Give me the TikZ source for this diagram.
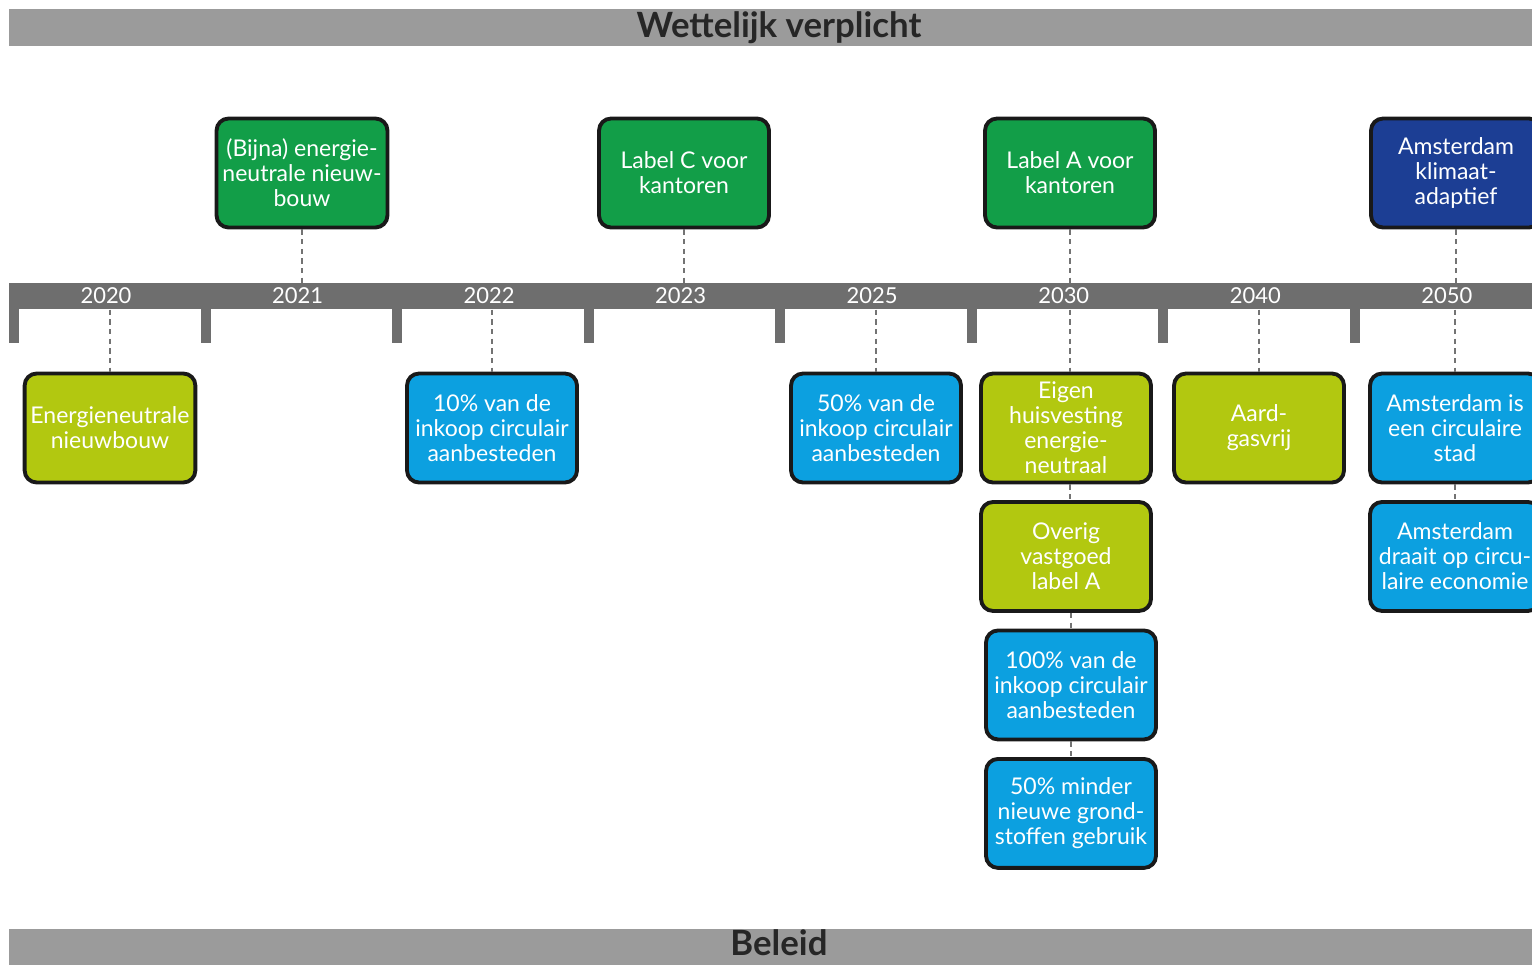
\documentclass[tikz,border=0pt]{standalone}
\usepackage{fontspec}
\setmainfont{Lato}
\usetikzlibrary{positioning}
\definecolor{bargray}{RGB}{155,155,155}
\definecolor{tlgray}{RGB}{110,110,110}
\definecolor{lawgreen}{RGB}{18,158,72}
\definecolor{navy}{RGB}{28,62,148}
\definecolor{lime}{RGB}{178,200,16}
\definecolor{sky}{RGB}{12,160,224}

\begin{document}
\begin{tikzpicture}[x=0.02cm,y=-0.02cm,node distance=2.57cm,on grid,
  box/.style={draw=black!90,line width=2.2pt,rounded corners=0.24cm,minimum width=3.4cm,
    minimum height=2.18cm,align=center,text=white,font=\fontsize{13.1}{14.2}\selectfont},
  wet/.style={box,fill=lawgreen},
  klimaat/.style={box,fill=navy},
  energie/.style={box,fill=lime},
  circ/.style={box,fill=sky},
  banner/.style={fill=bargray,minimum width=30.8cm,minimum height=0.74cm,inner sep=0,anchor=north,
    text=black!85,font=\fontsize{19.8}{22}\selectfont\bfseries},
  year/.style={text=white,font=\fontsize{12.5}{14}\selectfont},
  link/.style={draw=black!55,line width=0.85pt,dash pattern=on 3pt off 2.5pt}]
  \useasboundingbox (0,0) rectangle (1532,964);
  \node[banner] (wettelijk) at (779,9) {Wettelijk verplicht};
  \node[banner, minimum height=0.7cm, text depth=6pt] (beleid) at (779,929) {Beleid};
  \node[fill=tlgray,minimum width=30.8cm,minimum height=0.52cm,inner sep=0,anchor=north west] (tl) at (9,283) {};
  \foreach \yr [count=\i from 0] in {2020,2021,2022,2023,2025,2030,2040,2050} {
    \fill[tlgray] (9+191.55*\i,283) rectangle ++(10,60);
    \node[year] (y\yr) at (106+191.55*\i,296) {\yr};
  }

  \node[wet] (bijna) at (302,173) {(Bijna) energie-\\neutrale nieuw-\\bouw};
  \node[wet] (labelc) at (684,173) {Label C voor\\kantoren};
  \node[wet] (labela) at (1070,173) {Label A voor\\kantoren};
  \node[klimaat] (adaptief) at (1456,173) {Amsterdam\\klimaat-\\adaptief};

  \node[energie] (nieuwbouw) at (110,428) {Energieneutrale\\nieuwbouw};
  \node[circ] (inkoop10) at (492,428) {10\% van de\\inkoop circulair\\aanbesteden};
  \node[circ] (inkoop50) at (876,428) {50\% van de\\inkoop circulair\\aanbesteden};
  \node[energie] (eigen) at (1066,428) {Eigen\\huisvesting\\energie-\\neutraal};
  \node[energie, below=of eigen] (overig) {Overig\\vastgoed\\label A};
  \node[circ, below=of overig, xshift=0.1cm] (inkoop100) {100\% van de\\inkoop circulair\\aanbesteden};
  \node[circ, below=of inkoop100] (minder) {50\% minder\\nieuwe grond-\\stoffen gebruik};
  \node[energie] (gasvrij) at (1259,428) {Aard-\\gasvrij};
  \node[circ] (stad) at (1455,428) {Amsterdam is\\een circulaire\\stad};
  \node[circ, below=of stad] (economie) {Amsterdam\\draait op circu-\\laire economie};

  \foreach \n in {bijna,labelc,labela,adaptief}
    \draw[link] (\n.south) -- (\n.south |- tl.north);
  \foreach \n in {nieuwbouw,inkoop10,inkoop50,gasvrij,stad}
    \draw[link] (\n.north |- tl.south) -- (\n.north);
  \draw[link] (labela |- tl.south) -- (labela |- eigen.north);
  \draw[link] (labela |- eigen.south) -- (labela |- overig.north);
  \draw[link] (overig.south -| inkoop100) -- (inkoop100);
  \draw[link] (inkoop100) -- (minder);
  \draw[link] (stad) -- (economie);
\end{tikzpicture}
\end{document}
